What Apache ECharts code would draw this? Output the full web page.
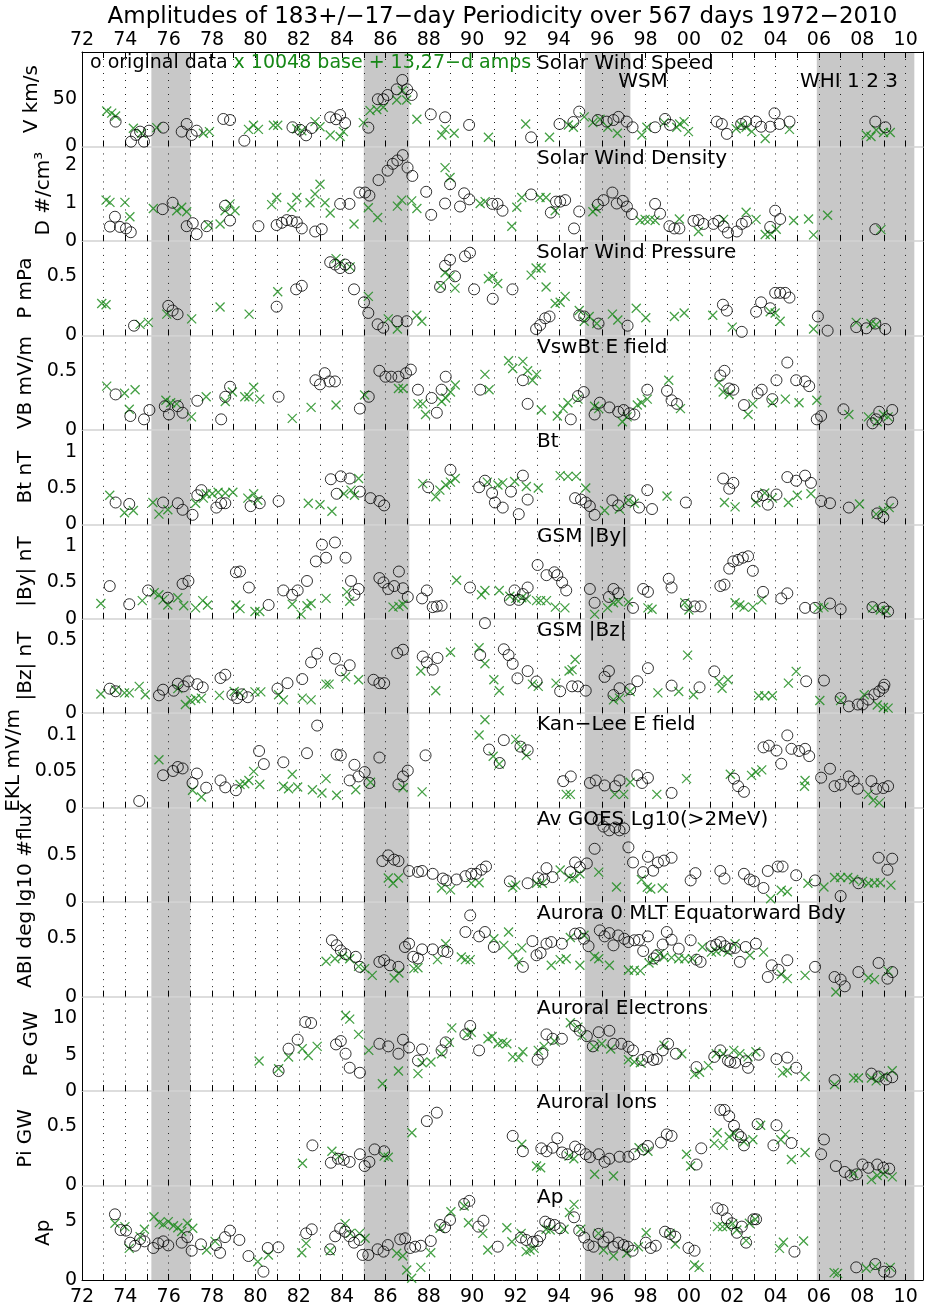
<!DOCTYPE html>
<html><head><meta charset="utf-8">
<script src="https://cdn.jsdelivr.net/npm/echarts/dist/echarts.min.js"></script>
<style>html,body{margin:0;padding:0;background:#fff}#c{width:927px;height:1310px}</style>
</head><body><div id="c"></div>
<script>
// ---------------- DATA ----------------
const xTickLabels = ['72','74','76','78','80','82','84','86','88','90','92','94','96','98','00','02','04','06','08','10'];
const shadedYears = [[1975.2,1977.0],[1985.0,1987.1],[1995.2,1997.3],[2005.9,2010.4]];
const panelNames = ['V km/s','D #/cm\u00b3','P mPa','VB mV/m','Bt nT','|By| nT','|Bz| nT','EKL mV/m','lg10 #flux','ABI deg','Pe GW','Pi GW','Ap'];
const panelTitles = ['Solar Wind Speed','Solar Wind Density','Solar Wind Pressure','VswBt E field','Bt','GSM |By|','GSM |Bz|','Kan\u2212Lee E field','Av GOES Lg10(>2MeV)','Aurora 0 MLT Equatorward Bdy','Auroral Electrons','Auroral Ions','Ap'];
const yMax = [100, 2.5, 0.8, 0.8, 1.3, 1.3, 0.65, 0.13, 1.0, 0.8, 13, 0.8, 8];
const yTicks = [[0,50],[0,1,2],[0,0.5],[0,0.5],[0,0.5,1],[0,0.5,1],[0,0.5],[0,0.05,0.1],[0,0.5],[0,0.5],[0,5,10],[0,0.5],[0,5]];

const vCircles = [[1973.55,26.3],[1974.26,5.1],[1974.49,12.2],[1974.68,15.7],[1974.86,5.1],[1975.09,16.7],[1975.75,19.9],[1976.6,15.7],[1976.83,23.8],[1977.06,12.2],[1977.29,16.7],[1978.52,29.1],[1978.83,28],[1979.49,6.1],[1981.71,20.3],[1982.06,17.7],[1982.34,11.8],[1982.6,19.5],[1983.45,30.9],[1983.72,28.8],[1983.91,33.3],[1984.14,24.8],[1985.21,19.9],[1985.65,50],[1985.9,50],[1986.1,54.5],[1986.52,60.5],[1986.78,70.4],[1987.0,60.5],[1987.21,54.5],[1988.09,34],[1988.75,30.9],[1989.86,22.8],[1992.72,9.7],[1994.03,23.8],[1994.67,25.9],[1994.94,36.9],[1995.8,28],[1996.21,26.3],[1996.52,28],[1996.75,31.3],[1997.13,26.3],[1997.4,20.3],[1998.44,20.3],[1998.9,29.1],[1999.13,22.8],[2001.29,26.3],[2001.52,23.8],[2001.75,13.3],[2002.41,23.8],[2002.64,26.3],[2003.1,26.3],[2003.33,20.9],[2003.75,20.9],[2003.95,35.1],[2004.18,23.8],[2004.64,26.3],[2008.6,26.3],[2009.06,20.3]];
const vCrosses = [[1973.14,37.6],[1973.37,35.3],[1973.55,32.3],[1974.37,19.3],[1974.75,14],[1975.45,19.9],[1977.6,14],[1977.88,15.7],[1979.68,18.1],[1979.91,22.4],[1980.14,18.1],[1980.83,22.4],[1981.03,22.4],[1981.91,18.8],[1982.14,16.7],[1982.75,26.3],[1982.98,20.9],[1983.45,12.2],[1983.91,10.5],[1984.06,15.7],[1984.98,25.2],[1985.29,37.9],[1985.6,39.2],[1985.9,41.5],[1986.52,49.2],[1986.78,59.3],[1986.98,49.2],[1987.45,28.8],[1988.6,12.2],[1988.75,18.1],[1989.17,14],[1990.75,9.7],[1992.47,23.8],[1993.57,9.7],[1994.44,22.8],[1994.67,20.3],[1995.17,31.3],[1995.57,25.2],[1995.9,28.8],[1996.26,20.3],[1996.7,14],[1997.83,12.2],[1998.06,20.3],[1998.86,25.2],[1999.44,20.3],[1999.57,23.8],[1999.78,26.3],[1999.98,15.7],[2002.18,18.8],[2002.41,22.4],[2002.64,20.3],[2002.9,15.7],[2003.52,8.4],[2004.64,18.1],[2008.18,12.2],[2008.4,10.5],[2008.64,17.4],[2008.98,14.7],[2009.29,14.7]];

const dCircles = [[1973.29,0.38],[1973.52,0.64],[1973.75,0.37],[1974.03,0.33],[1974.25,0.23],[1975.72,0.84],[1976.18,1.01],[1976.83,0.39],[1977.11,0.47],[1977.29,0.18],[1977.75,0.39],[1978.6,0.93],[1978.83,0.54],[1980.14,0.39],[1980.98,0.42],[1981.22,0.48],[1981.45,0.55],[1981.68,0.53],[1981.91,0.49],[1982.14,0.33],[1982.76,0.25],[1983.06,0.31],[1983.91,0.98],[1984.34,0.98],[1984.8,1.28],[1985.06,1.28],[1985.26,1.2],[1985.68,1.61],[1986.1,1.86],[1986.34,2.04],[1986.55,2.13],[1986.8,2.27],[1987.02,1.94],[1987.24,1.72],[1987.88,1.3],[1988.11,0.69],[1988.75,0.99],[1988.98,1.5],[1989.44,0.91],[1989.63,1.26],[1989.87,1.1],[1990.93,0.98],[1991.17,0.98],[1991.4,0.8],[1992.72,1.23],[1993.63,0.75],[1993.87,1.04],[1994.06,1.04],[1994.29,1.08],[1994.7,0.33],[1994.94,0.78],[1995.8,0.96],[1996.06,1.08],[1996.47,1.28],[1996.67,0.99],[1996.95,1.06],[1997.14,0.91],[1997.37,0.71],[1998.44,0.98],[1998.67,0.72],[1999.1,0.39],[1999.33,0.33],[1999.56,0.33],[2000.21,0.53],[2000.44,0.55],[2000.67,0.45],[2001.13,0.45],[2001.36,0.53],[2001.6,0.38],[2001.8,0.22],[2002.21,0.25],[2002.44,0.45],[2002.64,0.51],[2003.75,0.37],[2003.98,0.8],[2004.21,0.58],[2008.6,0.31]];
const dCrosses = [[1973.11,1.08],[1973.29,1.02],[1973.98,1.02],[1974.21,0.64],[1975.29,0.86],[1976.37,0.8],[1976.6,0.89],[1976.83,0.77],[1977.83,0.42],[1978.37,0.45],[1978.6,0.8],[1978.83,0.98],[1979.06,0.8],[1980.75,0.96],[1980.98,1.15],[1981.68,0.89],[1981.91,1.15],[1982.52,1.01],[1982.75,1.24],[1982.98,1.5],[1983.21,1.01],[1983.45,0.74],[1984.55,0.45],[1985.21,0.88],[1985.64,0.62],[1986.55,0.92],[1986.75,1.08],[1987.21,1.06],[1987.45,0.86],[1988.75,1.94],[1988.98,1.68],[1990.37,0.99],[1990.6,1.04],[1991.83,0.39],[1992.06,0.89],[1992.29,1.15],[1993.13,1.15],[1993.41,1.15],[1993.83,0.8],[1995.57,0.77],[1995.72,0.86],[1997.75,0.54],[1997.98,0.57],[1998.21,0.57],[1998.44,0.54],[1999.56,0.58],[2000.44,0.25],[2001.6,0.57],[2002.64,0.76],[2003.1,0.57],[2003.52,0.17],[2003.75,0.17],[2004.03,0.31],[2004.83,0.54],[2005.52,0.58],[2005.75,0.16],[2006.4,0.68],[2008.86,0.3]];

const pCircles = [[1974.4,0.082],[1975.98,0.25],[1976.18,0.21],[1976.41,0.18],[1980.98,0.243],[1981.88,0.39],[1982.14,0.42],[1983.45,0.62],[1983.68,0.6],[1983.91,0.57],[1984.14,0.6],[1984.34,0.57],[1984.55,0.39],[1985.01,0.28],[1985.21,0.19],[1985.64,0.094],[1985.9,0.065],[1986.55,0.12],[1986.98,0.12],[1988.52,0.41],[1988.75,0.59],[1988.98,0.64],[1989.21,0.5],[1989.67,0.67],[1989.9,0.7],[1990.09,0.39],[1990.95,0.31],[1991.86,0.39],[1992.95,0.054],[1993.14,0.088],[1993.37,0.145],[1993.57,0.16],[1994.94,0.17],[1995.17,0.16],[1995.83,0.1],[1997.17,0.082],[2001.57,0.26],[2001.75,0.21],[2002.44,0.03],[2003.1,0.2],[2003.33,0.28],[2003.75,0.23],[2003.98,0.36],[2004.21,0.36],[2004.44,0.36],[2004.64,0.32],[2005.95,0.16],[2006.4,0.04],[2007.72,0.07],[2008.18,0.06],[2008.6,0.1],[2009.06,0.054]];
const pCrosses = [[1972.91,0.27],[1973.11,0.26],[1974.68,0.093],[1975.06,0.11],[1975.91,0.18],[1977.06,0.14],[1978.37,0.24],[1979.71,0.18],[1981.03,0.37],[1983.72,0.65],[1983.91,0.61],[1984.37,0.58],[1985.21,0.33],[1986.13,0.14],[1986.55,0.054],[1987.45,0.17],[1987.68,0.12],[1988.55,0.42],[1988.75,0.53],[1988.98,0.5],[1989.21,0.4],[1990.75,0.48],[1990.95,0.5],[1991.18,0.44],[1992.72,0.51],[1992.95,0.57],[1993.18,0.57],[1993.41,0.41],[1993.83,0.27],[1994.06,0.28],[1994.29,0.33],[1994.94,0.21],[1995.17,0.12],[1995.4,0.16],[1995.75,0.1],[1996.47,0.18],[1996.72,0.13],[1997.57,0.23],[1998.01,0.15],[1999.33,0.16],[1999.78,0.19],[2001.1,0.17],[2002.0,0.07],[2003.75,0.2],[2003.98,0.19],[2004.21,0.12],[2005.75,0.054],[2007.72,0.11],[2008.4,0.1],[2008.64,0.09]];

const vbCircles = [[1973.55,0.30],[1974.23,0.117],[1974.86,0.089],[1975.11,0.168],[1975.82,0.2],[1976.01,0.13],[1976.42,0.2],[1976.64,0.145],[1977.32,0.246],[1978.42,0.089],[1978.61,0.28],[1978.83,0.365],[1981.07,0.28],[1982.77,0.42],[1982.98,0.385],[1983.2,0.48],[1983.42,0.41],[1983.67,0.41],[1984.82,0.18],[1985.23,0.28],[1985.72,0.5],[1986.0,0.45],[1986.27,0.45],[1986.6,0.45],[1986.95,0.48],[1987.17,0.51],[1987.5,0.34],[1988.13,0.27],[1988.37,0.145],[1988.59,0.34],[1988.78,0.45],[1990.37,0.34],[1992.34,0.42],[1992.56,0.22],[1994.55,0.089],[1994.88,0.286],[1995.15,0.32],[1995.65,0.13],[1995.89,0.23],[1996.33,0.19],[1996.74,0.153],[1996.99,0.168],[1997.26,0.14],[1997.48,0.13],[1998.08,0.34],[1998.99,0.33],[1999.2,0.25],[1999.45,0.22],[2001.45,0.46],[2001.64,0.5],[2001.86,0.35],[2002.05,0.34],[2002.54,0.21],[2003.17,0.31],[2003.36,0.34],[2003.85,0.26],[2004.04,0.42],[2004.54,0.57],[2004.95,0.42],[2005.36,0.41],[2005.55,0.37],[2005.9,0.089],[2006.1,0.117],[2007.13,0.174],[2008.47,0.055],[2008.64,0.089],[2008.78,0.153],[2009.19,0.089],[2009.38,0.168]];
const vbCrosses = [[1973.14,0.37],[1973.96,0.31],[1974.18,0.174],[1974.45,0.34],[1975.87,0.25],[1976.09,0.23],[1976.37,0.22],[1977.05,0.11],[1977.73,0.28],[1978.61,0.24],[1978.94,0.32],[1979.51,0.28],[1979.7,0.28],[1979.92,0.36],[1980.2,0.26],[1981.7,0.097],[1982.57,0.19],[1983.72,0.21],[1985.04,0.295],[1986.6,0.35],[1986.81,0.35],[1987.5,0.22],[1987.72,0.22],[1987.85,0.13],[1988.59,0.24],[1988.78,0.27],[1989.0,0.32],[1989.22,0.38],[1990.59,0.47],[1990.78,0.34],[1991.68,0.585],[1991.87,0.52],[1992.34,0.58],[1992.56,0.5],[1992.78,0.42],[1992.97,0.47],[1993.19,0.168],[1993.93,0.117],[1994.2,0.18],[1994.42,0.23],[1994.88,0.26],[1995.65,0.2],[1995.84,0.18],[1996.93,0.069],[1997.15,0.11],[1997.62,0.21],[1997.81,0.23],[1998.08,0.26],[1999.07,0.42],[1999.61,0.18],[2001.39,0.4],[2001.58,0.32],[2001.86,0.3],[2002.73,0.13],[2002.95,0.22],[2003.85,0.23],[2004.45,0.26],[2005.08,0.23],[2005.9,0.25],[2007.38,0.13],[2008.28,0.11],[2008.69,0.069],[2008.97,0.13],[2009.19,0.11]];

const btCircles = [[1973.55,0.30],[1974.18,0.28],[1975.74,0.30],[1976.42,0.29],[1976.64,0.2],[1977.1,0.13],[1977.32,0.40],[1977.51,0.47],[1978.2,0.23],[1978.42,0.29],[1978.61,0.29],[1979.78,0.25],[1980.2,0.29],[1981.07,0.32],[1983.48,0.62],[1983.75,0.42],[1983.94,0.66],[1984.35,0.63],[1984.82,0.45],[1985.31,0.36],[1985.72,0.32],[1985.94,0.26],[1987.97,0.51],[1989.0,0.75],[1990.32,0.51],[1990.59,0.6],[1990.92,0.43],[1991.05,0.3],[1991.41,0.23],[1991.79,0.45],[1992.15,0.14],[1992.34,0.67],[1992.56,0.34],[1994.75,0.36],[1995.02,0.34],[1995.24,0.3],[1995.43,0.25],[1995.65,0.13],[1996.47,0.33],[1996.74,0.26],[1997.29,0.33],[1997.7,0.23],[1998.08,0.47],[1998.3,0.21],[1999.86,0.3],[2001.58,0.63],[2001.86,0.49],[2002.05,0.57],[2003.14,0.38],[2003.42,0.4],[2003.64,0.27],[2004.04,0.41],[2004.54,0.65],[2004.95,0.6],[2005.36,0.67],[2005.63,0.57],[2006.1,0.32],[2006.51,0.29],[2007.38,0.23],[2008.69,0.15],[2008.97,0.1],[2009.38,0.3]];
const btCrosses = [[1973.28,0.4],[1973.96,0.16],[1974.37,0.19],[1975.27,0.3],[1975.55,0.14],[1975.96,0.2],[1977.24,0.29],[1977.6,0.36],[1977.73,0.42],[1978.01,0.42],[1978.28,0.44],[1978.61,0.43],[1978.96,0.44],[1979.65,0.36],[1979.92,0.42],[1980.11,0.33],[1982.44,0.29],[1982.98,0.27],[1983.53,0.18],[1984.08,0.42],[1984.41,0.47],[1984.57,0.4],[1984.76,0.63],[1987.72,0.56],[1988.32,0.38],[1988.51,0.47],[1988.78,0.54],[1989.0,0.58],[1989.22,0.63],[1990.7,0.58],[1991.19,0.54],[1991.41,0.57],[1991.96,0.59],[1992.5,0.52],[1993.05,0.5],[1994.06,0.67],[1994.42,0.66],[1994.8,0.66],[1995.24,0.5],[1996.11,0.19],[1996.79,0.21],[1997.21,0.33],[1997.48,0.29],[1998.99,0.39],[2001.64,0.3],[2002.13,0.24],[2003.09,0.3],[2003.5,0.43],[2003.85,0.36],[2004.59,0.3],[2005.0,0.4],[2005.63,0.42],[2007.87,0.28],[2008.64,0.14],[2008.97,0.19],[2009.24,0.23]];

const byCircles = [[1973.28,0.45],[1974.18,0.2],[1975.05,0.39],[1975.96,0.29],[1976.64,0.48],[1976.91,0.52],[1979.1,0.64],[1979.29,0.65],[1979.7,0.43],[1980.61,0.19],[1981.29,0.39],[1981.7,0.33],[1981.95,0.39],[1982.38,0.52],[1982.79,0.79],[1983.07,1.02],[1983.26,0.84],[1983.67,1.05],[1984.16,0.84],[1984.41,0.52],[1984.57,0.33],[1984.76,0.41],[1985.72,0.56],[1985.91,0.5],[1986.13,0.41],[1986.4,0.45],[1986.62,0.65],[1986.81,0.42],[1987.03,0.3],[1987.69,0.28],[1987.91,0.39],[1988.18,0.16],[1988.37,0.17],[1988.59,0.18],[1989.9,0.43],[1991.74,0.26],[1991.96,0.39],[1992.15,0.26],[1992.34,0.34],[1992.56,0.43],[1993.02,0.74],[1993.43,0.6],[1993.79,0.64],[1993.93,0.6],[1994.15,0.5],[1994.34,0.39],[1995.43,0.41],[1995.65,0.22],[1996.31,0.3],[1996.52,0.41],[1996.74,0.35],[1997.42,0.15],[1997.89,0.41],[1998.11,0.37],[1999.07,0.55],[1999.2,0.43],[1999.86,0.19],[2000.27,0.17],[2000.54,0.17],[2001.45,0.45],[2001.64,0.47],[2001.86,0.69],[2002.05,0.79],[2002.27,0.81],[2002.49,0.84],[2002.73,0.86],[2002.95,0.66],[2003.42,0.37],[2004.26,0.28],[2004.54,0.35],[2005.36,0.15],[2005.82,0.15],[2006.51,0.21],[2007.0,0.13],[2008.47,0.16],[2008.97,0.15],[2009.19,0.1]];
const byCrosses = [[1972.87,0.21],[1974.78,0.25],[1975.33,0.36],[1975.55,0.33],[1975.74,0.26],[1975.96,0.19],[1976.42,0.29],[1976.69,0.18],[1977.24,0.15],[1977.57,0.25],[1977.79,0.19],[1979.1,0.19],[1979.29,0.14],[1979.98,0.1],[1980.2,0.1],[1981.7,0.2],[1982.11,0.06],[1982.38,0.18],[1982.57,0.21],[1983.26,0.28],[1984.22,0.37],[1984.35,0.24],[1986.35,0.16],[1986.62,0.17],[1986.81,0.2],[1989.28,0.53],[1990.43,0.33],[1990.59,0.39],[1991.25,0.39],[1991.74,0.31],[1992.01,0.28],[1992.29,0.29],[1992.5,0.27],[1992.97,0.25],[1993.16,0.25],[1993.43,0.25],[1993.84,0.16],[1994.28,0.15],[1995.65,0.06],[1996.25,0.15],[1996.52,0.22],[1996.74,0.24],[1997.21,0.23],[1998.11,0.15],[1998.3,0.13],[1999.81,0.22],[2000.0,0.12],[2002.13,0.22],[2002.35,0.19],[2002.54,0.16],[2002.95,0.16],[2003.36,0.26],[2005.96,0.15],[2006.23,0.16],[2008.47,0.15],[2008.83,0.12],[2009.1,0.11]];

const bzCircles = [[1973.28,0.169],[1973.55,0.151],[1975.55,0.123],[1975.74,0.162],[1976.23,0.155],[1976.42,0.203],[1976.69,0.185],[1976.91,0.219],[1977.32,0.2],[1977.57,0.178],[1978.39,0.242],[1978.61,0.265],[1978.94,0.127],[1979.16,0.104],[1979.37,0.13],[1979.65,0.11],[1981.02,0.169],[1981.48,0.207],[1982.16,0.235],[1982.57,0.35],[1982.85,0.41],[1983.67,0.375],[1983.94,0.295],[1984.35,0.33],[1985.45,0.23],[1985.72,0.207],[1985.94,0.207],[1986.54,0.414],[1986.81,0.437],[1987.72,0.39],[1987.91,0.35],[1988.18,0.3],[1988.4,0.38],[1990.37,0.4],[1990.59,0.62],[1991.46,0.44],[1991.68,0.4],[1991.87,0.34],[1992.09,0.24],[1992.56,0.29],[1992.97,0.218],[1994.06,0.151],[1994.61,0.185],[1994.88,0.185],[1995.24,0.155],[1996.11,0.25],[1996.31,0.29],[1996.52,0.125],[1996.8,0.172],[1997.29,0.165],[1997.62,0.22],[1998.11,0.31],[1999.2,0.19],[2000.49,0.178],[2001.17,0.288],[2005.41,0.22],[2006.23,0.225],[2007.0,0.104],[2007.38,0.047],[2007.79,0.06],[2008.01,0.06],[2008.28,0.094],[2008.56,0.13],[2008.78,0.151],[2008.97,0.175],[2009.02,0.196]];
const bzCrosses = [[1972.87,0.132],[1973.55,0.16],[1973.96,0.14],[1974.18,0.14],[1974.64,0.185],[1974.92,0.127],[1976.42,0.169],[1976.77,0.06],[1977.02,0.088],[1977.24,0.1],[1977.51,0.104],[1978.34,0.123],[1979.02,0.15],[1979.29,0.14],[1979.98,0.147],[1980.25,0.147],[1981.07,0.127],[1981.29,0.092],[1982.16,0.104],[1982.57,0.092],[1983.26,0.2],[1983.4,0.2],[1984.16,0.25],[1984.76,0.23],[1987.63,0.29],[1988.32,0.155],[1989.0,0.42],[1990.32,0.45],[1990.59,0.34],[1991.0,0.23],[1991.25,0.155],[1992.78,0.2],[1993.05,0.185],[1993.87,0.207],[1994.47,0.29],[1994.61,0.3],[1994.75,0.37],[1996.52,0.092],[1996.8,0.104],[1997.29,0.15],[1998.57,0.14],[1999.53,0.15],[1999.94,0.4],[2000.21,0.127],[2001.39,0.218],[2001.53,0.172],[2001.8,0.23],[2003.22,0.12],[2003.5,0.12],[2003.85,0.12],[2004.59,0.207],[2004.95,0.288],[2006.04,0.088],[2007.0,0.088],[2008.09,0.127],[2008.69,0.057],[2008.97,0.039],[2009.19,0.035]];

const eklCircles = [[1974.64,0.0092],[1975.74,0.0446],[1976.2,0.0505],[1976.42,0.056],[1976.64,0.054],[1977.1,0.034],[1977.3,0.047],[1977.73,0.0275],[1978.39,0.0375],[1978.61,0.028],[1979.1,0.024],[1980.17,0.078],[1980.39,0.06],[1981.29,0.0625],[1982.38,0.075],[1982.85,0.113],[1983.75,0.073],[1983.94,0.072],[1984.35,0.0375],[1984.57,0.059],[1984.76,0.043],[1985.04,0.049],[1985.26,0.034],[1985.72,0.069],[1986.6,0.032],[1986.81,0.043],[1987.03,0.051],[1987.85,0.072],[1990.78,0.08],[1991.27,0.0615],[1991.46,0.093],[1992.23,0.084],[1992.56,0.079],[1994.2,0.0365],[1994.55,0.043],[1995.43,0.034],[1995.7,0.0375],[1996.11,0.0306],[1996.6,0.0296],[1996.8,0.0375],[1997.62,0.0446],[1997.84,0.034],[1998.11,0.041],[1999.2,0.0203],[2002.08,0.04],[2002.27,0.0296],[2002.54,0.0218],[2003.44,0.083],[2003.69,0.0854],[2004.04,0.0786],[2004.26,0.0605],[2004.54,0.0995],[2004.73,0.081],[2005.08,0.078],[2005.36,0.081],[2005.55,0.071],[2006.1,0.0413],[2006.51,0.0536],[2006.72,0.0296],[2007.0,0.0317],[2007.38,0.043],[2007.6,0.0365],[2007.79,0.0261],[2008.42,0.0365],[2008.64,0.026],[2008.97,0.027],[2009.19,0.0296]];
const eklCrosses = [[1975.55,0.066],[1977.1,0.024],[1977.51,0.0147],[1979.29,0.032],[1979.51,0.033],[1979.7,0.0375],[1979.92,0.05],[1980.2,0.032],[1981.29,0.0296],[1981.53,0.026],[1981.7,0.046],[1981.95,0.0285],[1982.63,0.0247],[1983.07,0.0203],[1983.26,0.04],[1983.75,0.017],[1984.63,0.0247],[1985.31,0.035],[1986.81,0.0275],[1987.69,0.0218],[1990.32,0.1],[1990.59,0.121],[1990.97,0.0707],[1991.25,0.06],[1992.01,0.094],[1992.23,0.084],[1992.5,0.072],[1994.34,0.0183],[1994.53,0.0183],[1996.58,0.0183],[1996.99,0.0183],[1997.29,0.035],[1998.52,0.0183],[1999.89,0.04],[2001.91,0.046],[2002.89,0.0445],[2003.09,0.049],[2003.36,0.052],[2005.33,0.0296],[2005.36,0.0375],[2008.28,0.0183],[2008.5,0.0101],[2008.78,0.0066]];

const goesCircles = [[1985.86,0.435],[1986.13,0.495],[1986.4,0.45],[1986.6,0.435],[1987.09,0.33],[1987.5,0.32],[1987.69,0.33],[1988.18,0.3],[1988.65,0.25],[1988.81,0.23],[1989.28,0.24],[1989.69,0.275],[1989.96,0.3],[1990.18,0.3],[1990.43,0.343],[1990.64,0.377],[1991.74,0.22],[1992.56,0.2],[1993.05,0.255],[1993.32,0.24],[1993.43,0.36],[1993.71,0.265],[1994.53,0.318],[1994.75,0.42],[1994.97,0.37],[1995.29,0.41],[1995.65,0.565],[1995.84,0.87],[1996.06,0.8],[1996.33,0.76],[1996.6,0.79],[1996.8,0.76],[1997.01,0.78],[1997.21,0.58],[1997.42,0.42],[1997.89,0.318],[1998.11,0.48],[1998.35,0.333],[1998.57,0.42],[1998.85,0.44],[1999.2,0.47],[2000.08,0.23],[2000.3,0.307],[2001.45,0.33],[2001.64,0.25],[2002.54,0.3],[2002.81,0.24],[2003.0,0.22],[2003.44,0.15],[2003.64,0.33],[2004.1,0.377],[2004.32,0.377],[2004.95,0.285],[2005.82,0.23],[2007.0,0.065],[2007.82,0.2],[2008.75,0.47],[2009.16,0.343],[2009.38,0.46]];
const goesCrosses = [[1986.13,0.255],[1986.35,0.2],[1986.6,0.255],[1988.59,0.15],[1989.0,0.13],[1989.96,0.2],[1990.32,0.205],[1991.87,0.157],[1992.01,0.18],[1992.97,0.2],[1993.24,0.2],[1994.06,0.34],[1994.47,0.265],[1994.69,0.25],[1994.97,0.3],[1995.84,0.318],[1996.66,0.16],[1997.81,0.24],[1998.08,0.157],[1998.24,0.14],[1998.77,0.15],[2003.77,0.035],[2004.26,0.125],[2004.54,0.11],[2005.49,0.2],[2006.23,0.16],[2006.72,0.26],[2007.0,0.26],[2007.33,0.26],[2007.6,0.24],[2008.01,0.22],[2008.28,0.2],[2008.56,0.205],[2008.83,0.205],[2009.32,0.18]];

const abiCircles = [[1983.53,0.477],[1983.75,0.435],[1983.94,0.39],[1984.16,0.36],[1984.63,0.337],[1984.82,0.252],[1985.72,0.294],[1985.94,0.308],[1986.21,0.265],[1986.6,0.252],[1986.9,0.42],[1987.09,0.448],[1987.28,0.337],[1987.5,0.323],[1987.69,0.4],[1988.18,0.4],[1988.67,0.386],[1988.86,0.378],[1989.69,0.547],[1989.91,0.688],[1990.32,0.51],[1990.59,0.547],[1991.0,0.42],[1992.34,0.252],[1992.78,0.47],[1992.97,0.35],[1993.16,0.37],[1993.43,0.448],[1993.65,0.462],[1994.14,0.448],[1994.75,0.533],[1994.97,0.538],[1995.16,0.49],[1995.37,0.427],[1995.89,0.561],[1996.11,0.51],[1996.33,0.538],[1996.52,0.434],[1996.74,0.518],[1997.02,0.49],[1997.21,0.462],[1997.48,0.477],[1997.7,0.48],[1997.89,0.386],[1998.11,0.51],[1998.38,0.323],[1998.52,0.35],[1998.79,0.441],[1998.98,0.547],[1999.2,0.482],[1999.53,0.406],[2000.08,0.477],[2000.35,0.313],[2000.54,0.294],[2001.04,0.427],[2001.26,0.441],[2001.45,0.462],[2001.66,0.427],[2001.91,0.406],[2002.13,0.413],[2002.35,0.294],[2002.62,0.42],[2003.09,0.448],[2003.64,0.166],[2003.82,0.265],[2004.13,0.227],[2004.54,0.308],[2005.82,0.252],[2006.72,0.166],[2007.0,0.144],[2007.19,0.087],[2007.82,0.208],[2008.75,0.285],[2009.16,0.152],[2009.38,0.208]];
const abiCrosses = [[1983.26,0.3],[1983.67,0.32],[1984.02,0.34],[1984.35,0.32],[1984.76,0.256],[1985.04,0.237],[1985.39,0.18],[1986.4,0.158],[1986.62,0.2],[1987.31,0.237],[1987.5,0.245],[1988.4,0.313],[1988.78,0.448],[1989.5,0.335],[1989.69,0.313],[1989.91,0.313],[1991.0,0.49],[1991.46,0.434],[1991.68,0.547],[1991.87,0.357],[1992.15,0.294],[1992.29,0.413],[1993.65,0.265],[1994.06,0.313],[1994.34,0.32],[1994.53,0.5],[1994.97,0.265],[1995.16,0.52],[1995.65,0.34],[1995.84,0.32],[1996.33,0.265],[1997.21,0.223],[1997.48,0.223],[1997.76,0.218],[1998.16,0.285],[1998.35,0.306],[1998.66,0.363],[1998.85,0.335],[1999.2,0.33],[1999.53,0.32],[1999.81,0.32],[2000.16,0.32],[2000.62,0.42],[2001.04,0.377],[2001.26,0.384],[2001.53,0.398],[2001.8,0.377],[2002.13,0.448],[2002.81,0.35],[2003.44,0.377],[2004.26,0.189],[2004.54,0.152],[2005.36,0.18],[2006.78,0.039],[2008.28,0.16],[2008.56,0.144],[2009.19,0.216]];

const peCircles = [[1981.07,2.75],[1981.53,5.83],[1981.95,7.07],[1982.3,9.5],[1982.57,9.36],[1983.72,6.42],[1983.94,6.88],[1984.16,5.14],[1984.35,3.21],[1984.82,2.52],[1985.72,6.51],[1986.13,6.15],[1986.6,5.14],[1986.81,7.07],[1987.09,6.0],[1987.5,4.2],[1987.69,5.73],[1988.59,5.6],[1988.78,6.7],[1989.69,7.8],[1989.91,8.96],[1990.32,5.6],[1993.02,4.3],[1993.24,5.14],[1993.43,7.8],[1993.71,7.2],[1994.14,7.2],[1994.75,8.96],[1994.97,8.3],[1995.29,7.56],[1995.57,6.15],[1995.84,8.1],[1996.33,8.3],[1996.52,6.51],[1996.88,6.51],[1997.21,6.1],[1997.42,5.6],[1997.84,4.28],[1998.11,4.7],[1998.35,4.28],[1998.52,4.4],[1998.79,5.6],[1999.04,6.51],[1999.4,5.14],[2000.35,3.3],[2001.17,4.7],[2001.45,5.6],[2001.8,4.2],[2001.91,4.0],[2002.13,3.9],[2002.62,4.1],[2002.73,3.2],[2003.22,5.0],[2004.04,4.4],[2004.54,4.6],[2004.95,3.21],[2006.72,1.5],[2008.42,2.4],[2008.75,2.0],[2009.1,1.6],[2009.38,1.9]];
const peCrosses = [[1980.17,4.13],[1981.07,3.08],[1981.53,4.68],[1982.16,5.83],[1982.44,4.9],[1982.85,6.15],[1984.16,10.4],[1984.35,9.9],[1984.76,7.8],[1985.23,5.6],[1985.86,1.0],[1986.6,2.75],[1987.5,2.4],[1987.69,3.9],[1988.1,4.0],[1988.59,5.14],[1988.95,6.7],[1989.06,8.7],[1989.77,7.8],[1989.96,8.1],[1990.73,7.2],[1990.92,7.5],[1991.19,6.5],[1991.41,6.7],[1991.6,6.5],[1991.87,4.7],[1992.15,4.6],[1992.34,5.4],[1993.05,5.6],[1993.32,6.15],[1993.79,6.9],[1994.53,9.4],[1994.88,8.8],[1995.07,7.6],[1995.62,6.1],[1995.98,6.5],[1996.39,5.8],[1997.21,4.3],[1997.48,4.0],[1997.76,3.9],[1998.85,6.3],[1999.67,5.14],[2000.27,2.3],[2000.49,2.6],[2000.9,3.5],[2001.26,5.14],[2001.58,5.14],[2002.07,5.6],[2002.35,5.14],[2002.73,4.7],[2003.09,5.4],[2004.32,2.5],[2004.54,2.8],[2005.36,2.0],[2006.72,0.9],[2007.6,1.8],[2007.82,1.8],[2008.42,1.8],[2008.64,1.4],[2008.97,2.0],[2009.38,2.8]];

const piCircles = [[1982.63,0.34],[1983.48,0.193],[1983.81,0.227],[1984.08,0.217],[1984.35,0.2],[1984.82,0.265],[1985.04,0.165],[1985.26,0.2],[1985.5,0.306],[1985.94,0.29],[1987.91,0.546],[1988.37,0.617],[1991.87,0.42],[1992.34,0.29],[1993.19,0.315],[1993.43,0.29],[1993.71,0.32],[1993.93,0.4],[1994.15,0.28],[1994.39,0.265],[1994.75,0.33],[1994.97,0.306],[1995.24,0.265],[1995.43,0.24],[1995.84,0.265],[1996.11,0.2],[1996.33,0.227],[1996.8,0.244],[1997.21,0.244],[1997.48,0.265],[1997.89,0.306],[1998.11,0.335],[1998.71,0.364],[1998.98,0.433],[1999.2,0.42],[2000.35,0.178],[2000.57,0.315],[2001.45,0.64],[2001.64,0.64],[2001.86,0.587],[2002.08,0.506],[2002.27,0.433],[2002.4,0.41],[2002.54,0.34],[2003.17,0.52],[2003.9,0.34],[2004.04,0.51],[2004.73,0.36],[2006.1,0.265],[2006.23,0.39],[2006.78,0.165],[2007.19,0.115],[2007.46,0.085],[2007.74,0.095],[2008.01,0.178],[2008.28,0.15],[2008.69,0.178],[2008.97,0.15],[2009.24,0.143]];
const piCrosses = [[1982.17,0.188],[1983.53,0.29],[1983.86,0.249],[1985.94,0.249],[1986.13,0.24],[1987.22,0.447],[1992.29,0.35],[1992.97,0.165],[1993.16,0.15],[1994.47,0.249],[1994.69,0.227],[1995.65,0.095],[1996.52,0.08],[1997.7,0.32],[1998.11,0.29],[1999.89,0.265],[2000.08,0.165],[2001.17,0.357],[2001.31,0.447],[2001.58,0.34],[2001.86,0.413],[2002.08,0.44],[2002.54,0.37],[2002.95,0.387],[2003.31,0.51],[2004.24,0.387],[2004.45,0.433],[2004.73,0.22],[2005.36,0.28],[2007.6,0.1],[2008.42,0.05],[2008.69,0.085],[2008.97,0.1],[2009.38,0.073]];

const apCircles = [[1973.52,5.56],[1973.78,4.23],[1974.03,4.18],[1974.22,3.16],[1974.45,2.9],[1974.68,3.46],[1974.88,3.27],[1975.29,2.71],[1975.52,3.1],[1975.75,3.27],[1975.98,2.93],[1976.6,3.16],[1976.86,3.63],[1977.06,2.48],[1977.49,3.02],[1978.18,2.96],[1978.37,2.3],[1978.6,3.63],[1978.83,4.18],[1979.26,3.39],[1979.68,2.03],[1980.37,0.705],[1980.57,2.71],[1981.06,2.77],[1982.34,3.95],[1982.6,4.29],[1983.45,2.6],[1983.68,3.7],[1983.91,4.35],[1984.14,4.09],[1984.34,3.7],[1984.55,3.16],[1984.8,3.39],[1984.95,2.12],[1985.21,2.12],[1985.64,2.6],[1985.91,2.4],[1986.11,2.96],[1986.68,3.44],[1986.91,3.53],[1987.14,2.71],[1987.37,2.82],[1987.63,2.9],[1988.09,3.3],[1988.52,4.66],[1988.75,4.46],[1988.98,5.08],[1989.63,6.44],[1989.87,6.7],[1990.29,4.52],[1990.52,5.02],[1991.18,2.82],[1992.26,3.6],[1992.49,3.39],[1992.8,3.24],[1993.01,3.3],[1993.14,3.7],[1993.37,4.94],[1993.57,4.74],[1993.8,4.66],[1994.06,4.38],[1994.7,5.31],[1994.94,4.18],[1995.17,3.6],[1995.37,2.96],[1995.6,2.82],[1995.83,3.9],[1996.06,3.24],[1996.29,3.6],[1996.52,2.82],[1996.75,3.16],[1996.98,2.96],[1997.18,2.82],[1997.4,2.48],[1998.01,3.16],[1998.24,2.71],[1998.47,2.9],[1998.9,4.09],[1999.13,3.9],[1999.37,3.67],[1999.98,2.71],[2000.26,2.48],[2001.32,6.07],[2001.55,5.93],[2001.75,5.22],[2001.98,4.8],[2002.21,4.0],[2002.44,4.52],[2002.64,3.16],[2002.98,5.14],[2003.1,5.14],[2004.87,2.4],[2007.72,1.07],[2008.6,1.35],[2009.01,0.7],[2009.29,0.7]];
const apCrosses = [[1973.52,4.8],[1973.98,4.52],[1974.18,2.68],[1974.68,3.67],[1974.88,4.29],[1975.32,5.36],[1975.57,4.86],[1975.75,4.71],[1975.98,4.94],[1976.22,4.6],[1976.42,4.43],[1976.6,4.1],[1976.86,4.8],[1977.11,4.38],[1977.75,2.54],[1978.14,3.27],[1980.11,1.55],[1980.6,2.12],[1982.14,2.3],[1982.34,3.1],[1983.45,2.48],[1984.14,4.77],[1984.37,3.95],[1984.8,3.95],[1985.06,3.53],[1986.52,2.26],[1986.8,2.03],[1986.98,0.85],[1987.21,0.14],[1987.63,1.07],[1988.09,2.3],[1988.52,4.38],[1989.02,5.78],[1989.63,6.27],[1989.83,4.85],[1990.49,3.95],[1990.72,2.54],[1991.6,4.43],[1991.83,3.24],[1992.26,3.95],[1992.49,2.4],[1992.67,2.54],[1992.86,2.68],[1993.41,4.29],[1993.6,4.23],[1994.24,4.29],[1994.49,5.72],[1994.7,6.4],[1995.01,4.29],[1995.83,3.95],[1996.06,2.54],[1996.52,2.03],[1997.13,2.26],[1997.67,2.82],[1998.03,4.0],[1999.13,3.95],[1999.37,3.05],[2000.26,1.27],[2000.47,1.07],[2001.32,4.52],[2001.55,4.52],[2001.75,4.52],[2002.02,4.77],[2002.21,4.23],[2002.64,3.33],[2002.79,4.8],[2003.06,5.14],[2004.18,2.68],[2004.36,3.19],[2005.29,3.3],[2006.7,0.62],[2006.86,0.56],[2008.18,1.0],[2008.6,1.13],[2009.29,1.07]];

const circleSets = [vCircles,dCircles,pCircles,vbCircles,btCircles,byCircles,bzCircles,eklCircles,goesCircles,abiCircles,peCircles,piCircles,apCircles];
const crossSets = [vCrosses,dCrosses,pCrosses,vbCrosses,btCrosses,byCrosses,bzCrosses,eklCrosses,goesCrosses,abiCrosses,peCrosses,piCrosses,apCrosses];

// ---------------- LAYOUT / STYLE ----------------
const FONT = 'DejaVu Sans';
const GREEN = '#168816';
const N = 13;
const LEFT = 82, WIDTH = 841, TOP = 52, PH = 94.46;
const XMIN = 1972, XMAX = 2010.8;
const nameGaps = [36, 27, 43, 39, 40, 40, 40, 50, 45, 42, 36, 40, 24];

function xLabel(v) {
  const y = Math.round(v);
  if (Math.abs(v - y) > 1e-6 || (y - 1972) % 2 !== 0) return '';
  const k = (y - 1972) / 2;
  return xTickLabels[k] !== undefined ? xTickLabels[k] : '';
}

const grids = [], xAxes = [], yAxes = [], series = [];
for (let i = 0; i < N; i++) {
  grids.push({left: LEFT, width: WIDTH, top: TOP + PH * i, height: PH, containLabel: false, outerBoundsMode: 'none'});
  const last = (i === N - 1);
  xAxes.push({
    gridIndex: i, type: 'value', min: XMIN, max: XMAX, interval: 1, position: 'bottom',
    axisLine: {show: true, onZero: false, lineStyle: {color: last ? '#000' : '#d2d2d2', width: last ? 1 : 1.5}},
    axisTick: {show: true, inside: true, length: 6, lineStyle: {color: '#000', width: 1}},
    axisLabel: {show: last, formatter: xLabel, fontFamily: FONT, fontSize: 19, color: '#000', margin: 8, showMinLabel: true, showMaxLabel: true, hideOverlap: false},
    splitLine: {show: true, lineStyle: {color: '#222', width: 1, type: [1, 6]}}
  });
  const tks = yTicks[i];
  yAxes.push({
    gridIndex: i, type: 'value', min: 0, max: yMax[i], interval: tks[1] - tks[0], position: 'left',
    name: panelNames[i], nameLocation: 'middle', nameRotate: 90, nameGap: nameGaps[i],
    nameTextStyle: {fontFamily: FONT, fontSize: 20, color: '#000'},
    axisLine: {show: true, onZero: false, lineStyle: {color: '#000', width: 1}},
    axisTick: {show: false},
    splitLine: {show: false},
    axisLabel: {show: true, fontFamily: FONT, fontSize: 19, color: '#000', margin: 5, showMinLabel: true, showMaxLabel: false, hideOverlap: false,
      formatter: function (v) { const t = tks.find(function (a) { return Math.abs(a - v) < 1e-9; }); return t === undefined ? '' : String(t); }}
  });
}
for (let i = 0; i < N; i++) {
  yAxes.push({gridIndex: i, type: 'value', min: 0, max: yMax[i], position: 'right',
    axisLine: {show: true, onZero: false, lineStyle: {color: '#000', width: 1}},
    axisTick: {show: false}, axisLabel: {show: false}, splitLine: {show: false}});
}
// top axis
xAxes.push({
  gridIndex: 0, type: 'value', min: XMIN, max: XMAX, interval: 1, position: 'top',
  axisLine: {show: true, onZero: false, lineStyle: {color: '#000', width: 1}},
  axisTick: {show: true, inside: true, length: 6, lineStyle: {color: '#000', width: 1}},
  axisLabel: {show: true, formatter: xLabel, fontFamily: FONT, fontSize: 19, color: '#000', margin: 2, showMinLabel: true, showMaxLabel: true, hideOverlap: false},
  splitLine: {show: false}
});

for (let i = 0; i < N; i++) {
  const ym = yMax[i];
  series.push({
    type: 'custom', xAxisIndex: i, yAxisIndex: i, z: -1, silent: true, data: shadedYears,
    renderItem: function (params, api) {
      const a = api.coord([api.value(0), ym]);
      const b = api.coord([api.value(1), 0]);
      return {type: 'rect', shape: {x: a[0], y: a[1], width: b[0] - a[0], height: b[1] - a[1]}, style: {fill: '#c8c8c8'}};
    }
  });
  series.push({
    type: 'scatter', xAxisIndex: i, yAxisIndex: i, data: crossSets[i], silent: true, z: 2,
    symbol: 'path://M0,0L10,10M10,0L0,10', symbolSize: 9,
    itemStyle: {color: 'rgba(0,0,0,0)', borderColor: GREEN, borderWidth: 1.3}
  });
  series.push({
    type: 'scatter', xAxisIndex: i, yAxisIndex: i, data: circleSets[i], silent: true, z: 3,
    symbol: 'circle', symbolSize: 11,
    itemStyle: {color: 'rgba(0,0,0,0)', borderColor: '#000', borderWidth: 1}
  });
}

const graphics = [];
function txt(x, y, text, size, fill, align) {
  return {type: 'text', x: x, y: y, silent: true, z: 100,
    style: {text: text, font: size + 'px "' + FONT + '"', fill: fill, align: align, textAlign: align, verticalAlign: 'middle', textVerticalAlign: 'middle'}};
}
graphics.push(txt(502.5, 17, 'Amplitudes of 183+/\u221217\u2212day Periodicity over 567 days 1972\u22122010', 23, '#000', 'center'));
for (let i = 0; i < N; i++) graphics.push(txt(537, TOP + PH * i + 12, panelTitles[i], 20, '#000', 'left'));
graphics.push({type: 'text', x: 90, y: 63, silent: true, z: 100,
  style: {text: '{a|o original data} {b|x 10048 base + 13,27\u2212d amps}', font: '19px "' + FONT + '"', verticalAlign: 'middle', textVerticalAlign: 'middle',
    rich: {a: {fill: '#000', fontFamily: FONT, fontSize: 19}, b: {fill: GREEN, fontFamily: FONT, fontSize: 19}}}});
graphics.push(txt(643, 82, 'WSM', 20, '#000', 'center'));
graphics.push(txt(800, 82, 'WHI 1 2 3', 20, '#000', 'left'));

const chart = echarts.init(document.getElementById('c'), null, {renderer: 'canvas', width: 927, height: 1310});
chart.setOption({
  animation: false,
  backgroundColor: '#fff',
  textStyle: {fontFamily: FONT},
  grid: grids, xAxis: xAxes, yAxis: yAxes, series: series, graphic: graphics
});
</script>
</body></html>
